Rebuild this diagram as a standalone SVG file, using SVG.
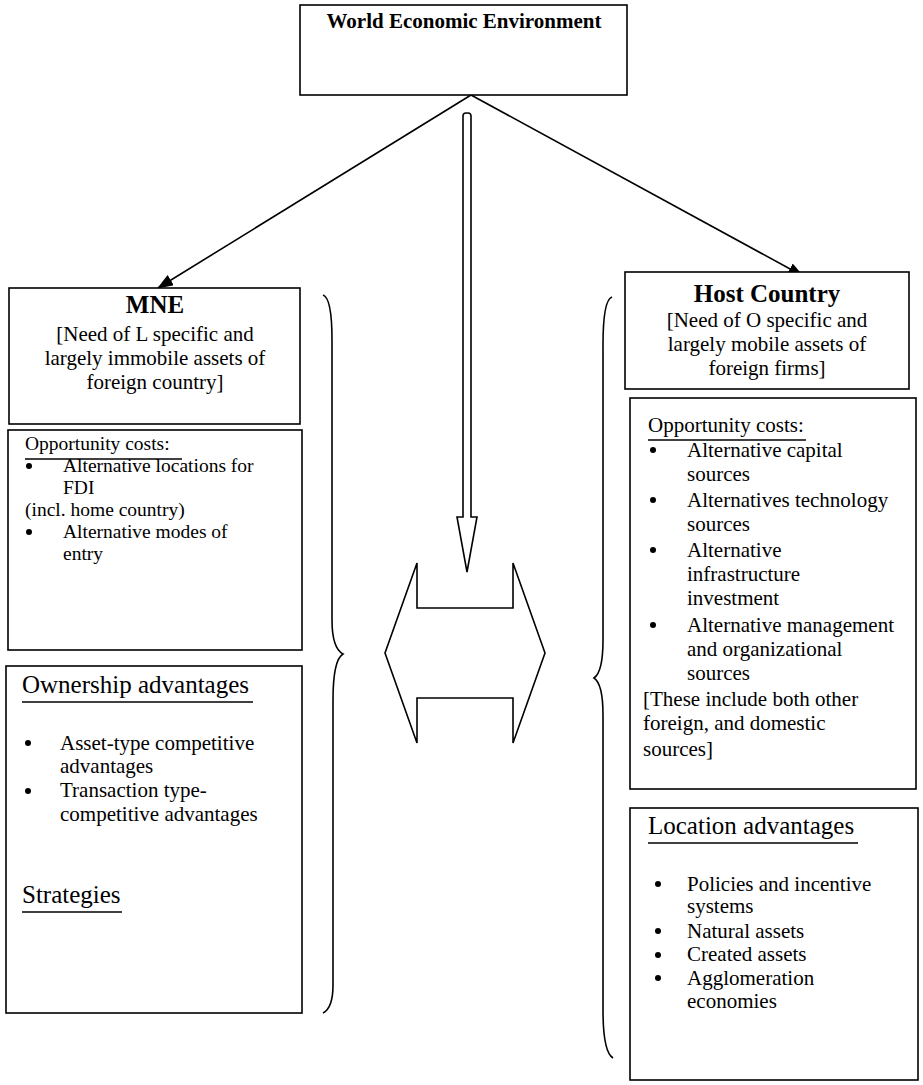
<svg xmlns="http://www.w3.org/2000/svg" width="923" height="1085" viewBox="0 0 923 1085">
<defs>
<style>
.box{fill:#fff;stroke:#000;stroke-width:1.6}
.t{font-family:"Liberation Serif","Times New Roman",serif;font-size:21px;fill:#000}
.s{font-size:19.5px}
.b{font-weight:bold}
.c{text-anchor:middle}
.big{font-size:25px}
.ul{stroke:#000;stroke-width:1.3}
.ln{stroke:#000;stroke-width:1.6;fill:none}
.sh{fill:#fff;stroke:#000;stroke-width:1.6;stroke-linejoin:miter}
</style>
<marker id="ah" markerWidth="16" markerHeight="12" refX="15" refY="6" orient="auto" markerUnits="userSpaceOnUse">
<path d="M0,0 L16,6 L0,12 Z" fill="#000"/>
</marker>
</defs>
<rect width="923" height="1085" fill="#fff"/>

<g id="connectors">
<line class="ln" x1="471" y1="95" x2="158" y2="288" marker-end="url(#ah)"/>
<line class="ln" x1="471" y1="95" x2="803" y2="276" marker-end="url(#ah)"/>
<path class="sh" d="M463,116 Q463,113 466,113 L468,113 Q471,113 471,116 L471,517 L477,517 L467,572 L457,517 L463,517 Z"/>
<path class="sh" d="M417,563 L385,653 L417,743 L417,698 L513,698 L513,743 L545,653 L513,563 L513,608 L417,608 Z"/>
<path class="ln" d="M323,295 Q332,298 332,340 L332,620 Q332,648 343,654 Q333,660 333,700 L333,985 Q333,1008 323,1013"/>
<path class="ln" d="M612,297 Q603,300 603,345 L603,640 Q603,672 594,678 Q603,684 603,715 L603,1010 Q603,1052 613,1058"/>
</g>

<g id="world">
<rect class="box" x="300" y="5" width="327" height="90"/>
<text class="t b c" x="464" y="28">World Economic Environment</text>
</g>

<g id="mne">
<rect class="box" x="9" y="288" width="291" height="136"/>
<text class="t b c big" x="155" y="313">MNE</text>
<text class="t c" x="155" y="341">[Need of L specific and</text>
<text class="t c" x="155" y="365">largely immobile assets of</text>
<text class="t c" x="155" y="389">foreign country]</text>
</g>

<g id="mne-opportunity">
<rect class="box" x="8" y="430" width="294" height="220"/>
<text class="t s" x="25" y="450">Opportunity costs:</text>
<line class="ul" x1="25" y1="459" x2="182" y2="459"/>
<circle cx="29" cy="466" r="3"/>
<text class="t s" x="63" y="472">Alternative locations for</text>
<text class="t s" x="63" y="494">FDI</text>
<text class="t s" x="25" y="516">(incl. home country)</text>
<circle cx="29" cy="532" r="3"/>
<text class="t s" x="63" y="538">Alternative modes of</text>
<text class="t s" x="63" y="560">entry</text>
</g>

<g id="ownership">
<rect class="box" x="6" y="666" width="296" height="347"/>
<text class="t big" x="22" y="693">Ownership advantages</text>
<line class="ul" x1="22" y1="702" x2="253" y2="702"/>
<circle cx="28" cy="743" r="3"/>
<text class="t" x="60" y="750">Asset-type competitive</text>
<text class="t" x="60" y="773">advantages</text>
<circle cx="28" cy="791" r="3"/>
<text class="t" x="60" y="797">Transaction type-</text>
<text class="t" x="60" y="821">competitive  advantages</text>
<text class="t big" x="22" y="903">Strategies</text>
<line class="ul" x1="22" y1="912" x2="122" y2="912"/>
</g>

<g id="host">
<rect class="box" x="625" y="272" width="284" height="117"/>
<text class="t b c big" x="767" y="302">Host Country</text>
<text class="t c" x="767" y="327">[Need of O specific and</text>
<text class="t c" x="767" y="351">largely mobile assets of</text>
<text class="t c" x="767" y="375">foreign firms]</text>
</g>

<g id="host-opportunity">
<rect class="box" x="630" y="398" width="286" height="391"/>
<text class="t" x="648" y="432">Opportunity costs:</text>
<line class="ul" x1="648" y1="440" x2="806" y2="440"/>
<circle cx="653" cy="450" r="3"/>
<text class="t" x="687" y="457">Alternative capital</text>
<text class="t" x="687" y="481">sources</text>
<circle cx="653" cy="500" r="3"/>
<text class="t" x="687" y="507">Alternatives technology</text>
<text class="t" x="687" y="531">sources</text>
<circle cx="653" cy="550" r="3"/>
<text class="t" x="687" y="557">Alternative</text>
<text class="t" x="687" y="581">infrastructure</text>
<text class="t" x="687" y="605">investment</text>
<circle cx="653" cy="625" r="3"/>
<text class="t" x="687" y="632">Alternative management</text>
<text class="t" x="687" y="656">and organizational</text>
<text class="t" x="687" y="680">sources</text>
<text class="t" x="643" y="706">[These include both other</text>
<text class="t" x="643" y="730">foreign, and domestic</text>
<text class="t" x="643" y="756">sources]</text>
</g>

<g id="location">
<rect class="box" x="630" y="808" width="288" height="272"/>
<text class="t big" x="648" y="834">Location advantages</text>
<line class="ul" x1="648" y1="843" x2="858" y2="843"/>
<circle cx="658" cy="884" r="3"/>
<text class="t" x="687" y="891">Policies and incentive</text>
<text class="t" x="687" y="913">systems</text>
<circle cx="658" cy="931" r="3"/>
<text class="t" x="687" y="938">Natural assets</text>
<circle cx="658" cy="955" r="3"/>
<text class="t" x="687" y="961">Created assets</text>
<circle cx="658" cy="978" r="3"/>
<text class="t" x="687" y="985">Agglomeration</text>
<text class="t" x="687" y="1008">economies</text>
</g>
</svg>
